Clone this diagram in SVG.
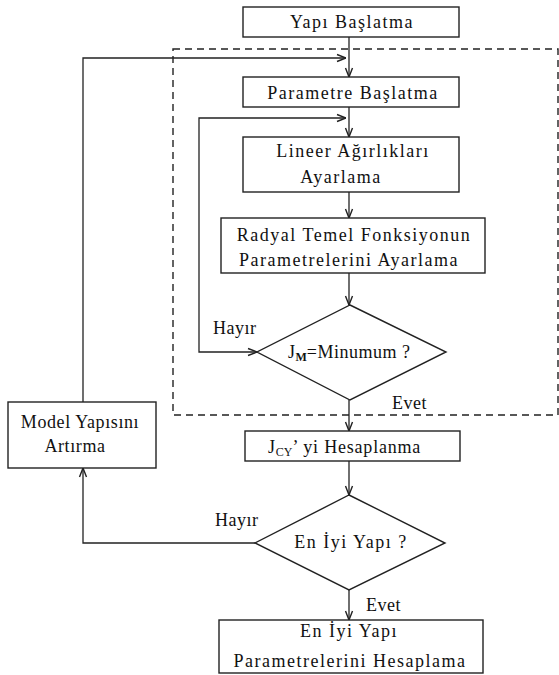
<svg xmlns="http://www.w3.org/2000/svg" width="559" height="675" viewBox="0 0 559 675">
<style>
.box{fill:#fff;stroke:#222;stroke-width:1.4}
.ln{fill:none;stroke:#222;stroke-width:1.3}
.dash{fill:none;stroke:#222;stroke-width:1.4;stroke-dasharray:7 5}
text{font-family:"Liberation Serif","Times New Roman",serif;font-size:18px;fill:#111;letter-spacing:1.5px;text-anchor:middle}
.l{text-anchor:start}
.sub{font-size:12px;font-weight:bold;letter-spacing:0}
</style>
<defs>
<marker id="ah" viewBox="0 0 10 10" refX="10" refY="5" markerWidth="10" markerHeight="10" markerUnits="userSpaceOnUse" orient="auto">
<polyline points="1,1.5 10,5 1,8.5" fill="none" stroke="#222" stroke-width="1.4"/>
</marker>
<marker id="as" viewBox="0 0 10 10" refX="0" refY="5" markerWidth="10" markerHeight="10" markerUnits="userSpaceOnUse" orient="auto">
<polyline points="9,1.5 0,5 9,8.5" fill="none" stroke="#222" stroke-width="1.4"/>
</marker>
</defs>
<rect class="dash" x="173" y="49" width="385" height="366"/>
<g id="connectors">
<line class="ln" x1="349" y1="37" x2="349" y2="77" marker-end="url(#ah)"/>
<polyline class="ln" points="83,402 83,58 346,58" marker-end="url(#ah)"/>
<line class="ln" x1="349" y1="107" x2="349" y2="137" marker-end="url(#ah)"/>
<polyline class="ln" points="257,352 199,352 199,118 346,118" marker-start="url(#as)" marker-end="url(#ah)"/>
<line class="ln" x1="349" y1="192" x2="349" y2="218" marker-end="url(#ah)"/>
<line class="ln" x1="349" y1="273" x2="349" y2="305" marker-end="url(#ah)"/>
<line class="ln" x1="349" y1="400" x2="349" y2="431" marker-end="url(#ah)"/>
<line class="ln" x1="349" y1="461" x2="349" y2="495" marker-end="url(#ah)"/>
<polyline class="ln" points="255,543 83,543 83,468" marker-end="url(#ah)"/>
<line class="ln" x1="349" y1="590" x2="349" y2="620" marker-end="url(#ah)"/>
</g>
<g id="yapi-baslatma">
<rect class="box" x="243" y="7" width="216" height="30"/>
<text x="352" y="28">Yapı Başlatma</text>
</g>
<g id="parametre-baslatma">
<rect class="box" x="243" y="77" width="216" height="30"/>
<text x="353" y="99">Parametre Başlatma</text>
</g>
<g id="lineer">
<rect class="box" x="243" y="137" width="216" height="55"/>
<text x="353" y="157">Lineer Ağırlıkları</text>
<text x="341" y="183">Ayarlama</text>
</g>
<g id="radyal">
<rect class="box" x="221" y="218" width="264" height="55"/>
<text x="354" y="241">Radyal Temel Fonksiyonun</text>
<text x="349" y="266">Parametrelerini  Ayarlama</text>
</g>
<g id="jm-minimum">
<polygon class="box" points="350,305 446,352 350,400 257,352"/>
<text class="l" x="288" y="358" style="letter-spacing:0.5px">J<tspan class="sub" dy="3">M</tspan><tspan dy="-3">=Minumum ?</tspan></text>
<text class="l" x="213" y="334" style="letter-spacing:0.5px">Hayır</text>
<text class="l" x="392" y="409" style="letter-spacing:0.5px">Evet</text>
</g>
<g id="jcy">
<rect class="box" x="245" y="431" width="215" height="30"/>
<text class="l" x="268" y="453" style="letter-spacing:0.8px">J<tspan class="sub" dy="3" style="font-weight:normal">CY</tspan><tspan dy="-3">’ yi Hesaplanma</tspan></text>
</g>
<g id="en-iyi-yapi">
<polygon class="box" points="349,495 445,543 349,590 255,543"/>
<text x="351" y="548">En İyi Yapı ?</text>
<text class="l" x="215" y="526" style="letter-spacing:0.5px">Hayır</text>
<text class="l" x="366" y="611" style="letter-spacing:0.5px">Evet</text>
</g>
<g id="model-yapisi">
<rect class="box" x="8" y="402" width="148" height="66"/>
<text x="80" y="428" style="letter-spacing:0.6px">Model Yapısını</text>
<text x="75" y="452" style="letter-spacing:0.6px">Artırma</text>
</g>
<g id="sonuc">
<rect class="box" x="219" y="620" width="264" height="53"/>
<text x="349" y="637">En İyi Yapı</text>
<text x="350" y="667">Parametrelerini Hesaplama</text>
</g>
</svg>
